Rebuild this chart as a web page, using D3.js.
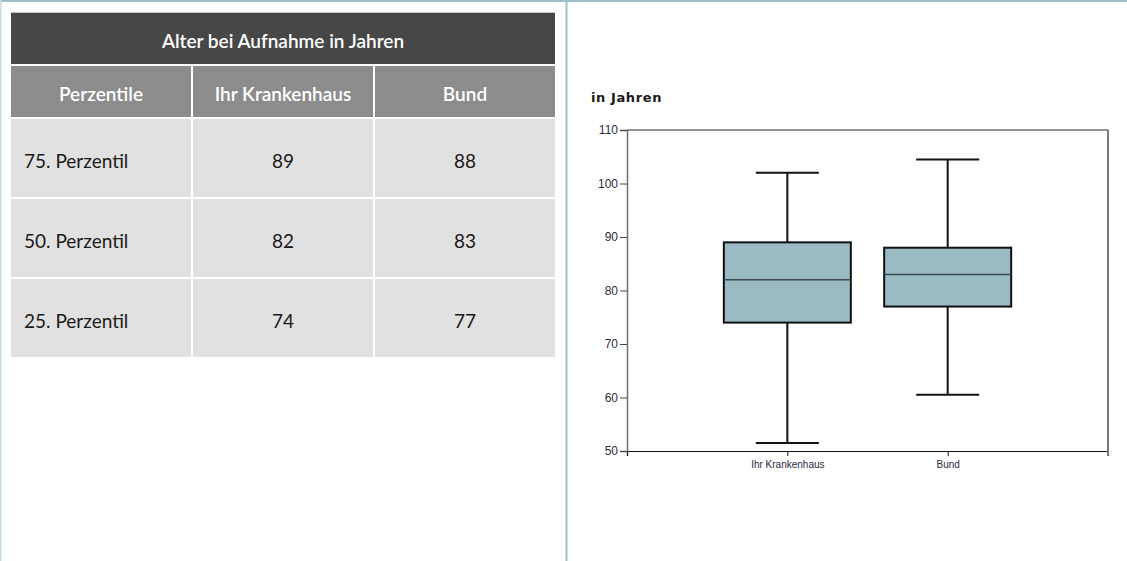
<!DOCTYPE html>
<html><head><meta charset="utf-8">
<script src="https://cdn.jsdelivr.net/npm/d3@7"></script>
<style>
html,body{margin:0;padding:0;background:#fff;}
svg{display:block;}
</style></head>
<body>
<script>
// ---- data ----
const tableTitle = "Alter bei Aufnahme in Jahren";
const tableHeaders = ["Perzentile", "Ihr Krankenhaus", "Bund"];
const percentileLabels = ["75. Perzentil", "50. Perzentil", "25. Perzentil"];
const krankenhausValues = [89, 82, 74];
const bundValues = [88, 83, 77];

const categories = ["Ihr Krankenhaus", "Bund"];
const whiskerLow = [51.5, 60.5];
const q1Values = [74, 77];
const medianValues = [82, 83];
const q3Values = [89, 88];
const whiskerHigh = [102, 104.5];
const yTicks = [50, 60, 70, 80, 90, 100, 110];
const yTitle = "in Jahren";

// ---- svg ----
const W = 1127, H = 561;
const svg = d3.select("body").append("svg").attr("width", W).attr("height", H);

// frame borders
svg.append("rect").attr("x", 0).attr("y", 0).attr("width", W).attr("height", 2).attr("fill", "#9fc0c8");
svg.append("rect").attr("x", 0).attr("y", 0).attr("width", 1.5).attr("height", H).attr("fill", "#c5dbe0");
svg.append("rect").attr("x", 565.5).attr("y", 0).attr("width", 2).attr("height", H).attr("fill", "#9fc0c8");

// ---- table ----
const tableFont = "Lato, 'Open Sans', sans-serif";
const colScale = d3.scaleBand().domain(d3.range(tableHeaders.length)).range([11, 555]).paddingInner(2 / 182);
const rowScale = d3.scaleBand().domain(d3.range(percentileLabels.length)).range([119, 357]).paddingInner(2 / 80);

// title row
svg.append("rect").attr("x", 11).attr("y", 12).attr("width", 544).attr("height", 52).attr("fill", "#474747");
svg.append("rect").attr("x", 11).attr("y", 12).attr("width", 544).attr("height", 1).attr("fill", "#c8c8c8");
svg.append("text").attr("x", 283).attr("y", 43).attr("text-anchor", "middle")
  .attr("dominant-baseline", "middle")
  .attr("font-family", tableFont).attr("font-size", 19).attr("font-weight", 600).attr("fill", "#fff")
  .text(tableTitle);

// header row
const hdr = svg.append("g").selectAll("g").data(tableHeaders).join("g");
hdr.append("rect").attr("x", (d, i) => colScale(i)).attr("y", 66).attr("width", colScale.bandwidth()).attr("height", 51).attr("fill", "#8c8c8c");
hdr.append("text").attr("x", (d, i) => colScale(i) + colScale.bandwidth() / 2).attr("y", 96)
  .attr("text-anchor", "middle").attr("dominant-baseline", "middle")
  .attr("font-family", tableFont).attr("font-size", 19).attr("font-weight", 600).attr("fill", "#fff")
  .text(d => d);

// body rows
const rowsData = percentileLabels.map((p, i) => [p, krankenhausValues[i], bundValues[i]]);
rowsData.forEach((row, r) => {
  row.forEach((cell, c) => {
    svg.append("rect").attr("x", colScale(c)).attr("y", rowScale(r)).attr("width", colScale.bandwidth())
      .attr("height", rowScale.bandwidth()).attr("fill", "#e1e1e1");
    svg.append("text")
      .attr("x", c === 0 ? colScale(c) + 13 : colScale(c) + colScale.bandwidth() / 2)
      .attr("y", rowScale(r) + rowScale.bandwidth() / 2 + 5)
      .attr("text-anchor", c === 0 ? "start" : "middle").attr("dominant-baseline", "middle")
      .attr("font-family", tableFont).attr("font-size", 19).attr("fill", "#1a1a1a")
      .text(cell);
  });
});

// ---- box plot ----
const m = {left: 627, right: 1108, top: 130, bottom: 451};
const y = d3.scaleLinear().domain([50, 110]).range([m.bottom, m.top]);
const x = d3.scalePoint().domain(categories).range([m.left, m.right]).padding(1);
const boxW = 127, capW = 63;

// y title
svg.append("text").attr("x", 591).attr("y", 102)
  .attr("font-family", "'DejaVu Sans', Verdana, sans-serif").attr("font-size", 13).attr("font-weight", "bold")
  .attr("letter-spacing", 0.6)
  .attr("fill", "#1a1a1a").text(yTitle);

// axes
const yAxis = svg.append("g").attr("transform", `translate(${m.left},0)`)
  .call(d3.axisLeft(y).tickValues(yTicks).tickSize(7).tickPadding(2).tickFormat(d3.format("d")));
yAxis.select(".domain").attr("stroke", "#6e6e6e").attr("stroke-width", 1.5);
yAxis.selectAll(".tick line").attr("stroke", "#444");
yAxis.selectAll(".tick text").attr("font-family", "'Liberation Sans', Arial, sans-serif").attr("font-size", 12).attr("fill", "#2b2b3b");

const xAxis = svg.append("g").attr("transform", `translate(0,${m.bottom})`)
  .call(d3.axisBottom(x).tickSize(5).tickPadding(5).tickSizeOuter(5));
xAxis.select(".domain").attr("stroke", "#111").attr("stroke-width", 1.2);
xAxis.selectAll(".tick line").attr("stroke", "#111");
xAxis.selectAll(".tick text").attr("font-family", "'Liberation Sans', Arial, sans-serif").attr("font-size", 10).attr("fill", "#2b2b3b").attr("dy", "0.7em");

// top and right frame
svg.append("line").attr("x1", m.left).attr("x2", m.right).attr("y1", y(110)).attr("y2", y(110)).attr("stroke", "#6e6e6e").attr("stroke-width", 1.5);
svg.append("line").attr("x1", m.right).attr("x2", m.right).attr("y1", y(110)).attr("y2", m.bottom + 5).attr("stroke", "#7a7a7a").attr("stroke-width", 2);

const boxes = svg.append("g").selectAll("g").data(categories).join("g");
// whiskers
boxes.append("line").attr("x1", d => x(d)).attr("x2", d => x(d))
  .attr("y1", (d, i) => y(whiskerLow[i])).attr("y2", (d, i) => y(whiskerHigh[i]))
  .attr("stroke", "#111").attr("stroke-width", 2);
boxes.append("line").attr("x1", d => x(d) - capW / 2).attr("x2", d => x(d) + capW / 2)
  .attr("y1", (d, i) => y(whiskerLow[i])).attr("y2", (d, i) => y(whiskerLow[i]))
  .attr("stroke", "#111").attr("stroke-width", 2);
boxes.append("line").attr("x1", d => x(d) - capW / 2).attr("x2", d => x(d) + capW / 2)
  .attr("y1", (d, i) => y(whiskerHigh[i])).attr("y2", (d, i) => y(whiskerHigh[i]))
  .attr("stroke", "#111").attr("stroke-width", 2);
// box
boxes.append("rect").attr("x", d => x(d) - boxW / 2).attr("width", boxW)
  .attr("y", (d, i) => y(q3Values[i])).attr("height", (d, i) => y(q1Values[i]) - y(q3Values[i]))
  .attr("fill", "#9bbbc4").attr("stroke", "#111").attr("stroke-width", 2);
// median
boxes.append("line").attr("x1", d => x(d) - boxW / 2).attr("x2", d => x(d) + boxW / 2)
  .attr("y1", (d, i) => y(medianValues[i])).attr("y2", (d, i) => y(medianValues[i]))
  .attr("stroke", "#3c4a4e").attr("stroke-width", 1.5);
</script>
</body></html>
